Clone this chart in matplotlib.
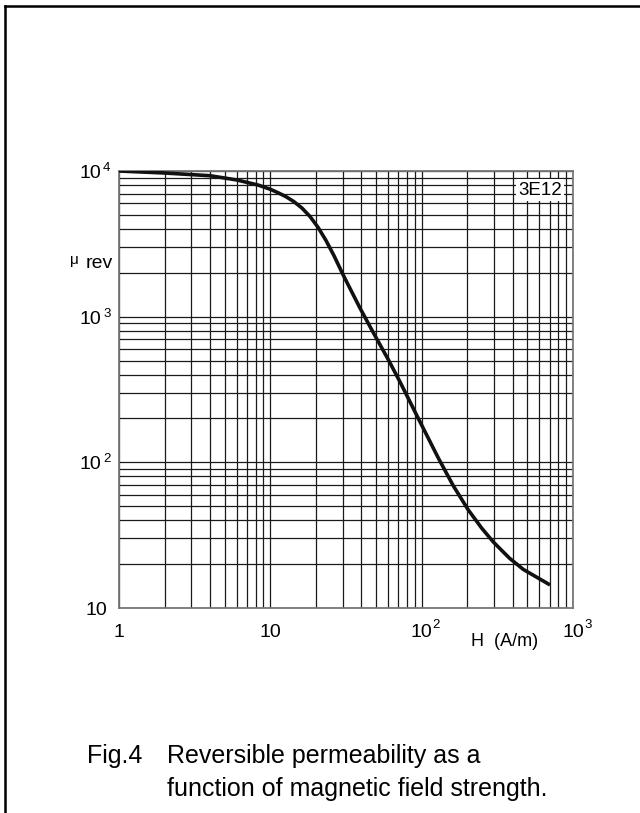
import matplotlib
matplotlib.use("Agg")
import matplotlib.pyplot as plt
from matplotlib.lines import Line2D

plt.rcParams['font.family'] = ['Liberation Sans', 'DejaVu Sans']

# curve (H in A/m, reversible permeability)
H = [1, 2, 4, 6, 8.3, 10, 11.24, 12.69, 14.33, 16.19, 18.29, 20.65, 23.33,
     26.35, 30.3, 39.1, 47.9, 60.2, 71.9, 95, 128.8, 161.8, 203.3, 250,
     297.4, 380, 469.5, 705]
mu_rev = [10000, 9690, 9280, 8680, 8010, 7490, 7096, 6662, 6156, 5563, 4871,
          4108, 3334, 2621, 1932, 1147, 777, 507, 357, 200.2, 107.1, 69.0,
          47.1, 35.2, 28.4, 22.0, 18.4, 14.4]

x_ticks = [1, 10, 100, 1000]
x_main = ['1', '10', '10', '10']
x_sup = ['', '', '2', '3']
y_ticks = [10, 100, 1000, 10000]
y_main = ['10', '10', '10', '10']
y_sup = ['', '2', '3', '4']

material = '3E12'
caption_tag = 'Fig.4'
caption = ['Reversible permeability as a', 'function of magnetic field strength.']

fig = plt.figure(figsize=(6.4, 8.13), dpi=100)
ax = fig.add_axes([119 / 640, 1 - 608 / 813, 454 / 640, 437 / 813])
ax.set_xscale('log')
ax.set_yscale('log')
ax.set_xlim(1, 1000)
ax.set_ylim(10, 10000)

ax.grid(True, which='both', color='#1a1a1a', lw=0.9)
ax.set_axisbelow(True)
ax.tick_params(which='both', length=0, labelbottom=False, labelleft=False)
for s in ax.spines.values():
    s.set_color('#777777')
    s.set_linewidth(1.3)

ax.plot(H, mu_rev, color='#111111', lw=2.6, solid_joinstyle='round',
        solid_capstyle='butt', zorder=3)

tick_fs = 14
sup_fs = 9.5
# x tick labels
for v, m, s in zip(x_ticks, x_main, x_sup):
    ax.annotate(m, (v, 0), xycoords=('data', 'axes fraction'),
                xytext=(0, -29), textcoords='offset pixels',
                ha='center', va='baseline', fontsize=tick_fs)
    if s:
        ax.annotate(s, (v, 0), xycoords=('data', 'axes fraction'),
                    xytext=(11, -20), textcoords='offset pixels',
                    ha='left', va='baseline', fontsize=sup_fs)
# y tick labels
for v, m, s in zip(y_ticks, y_main, y_sup):
    dx = -18 if s else -12
    ax.annotate(m, (0, v), xycoords=('axes fraction', 'data'),
                xytext=(dx, -7), textcoords='offset pixels',
                ha='right', va='baseline', fontsize=tick_fs)
    if s:
        ax.annotate(s, (0, v), xycoords=('axes fraction', 'data'),
                    xytext=(-16, 0), textcoords='offset pixels',
                    ha='left', va='baseline', fontsize=sup_fs)

ax.text(0.775, -0.087, 'H  (A/m)', transform=ax.transAxes,
        ha='left', va='baseline', fontsize=13)
ax.text(-0.108, 0.787, '\u03bc', transform=ax.transAxes,
        ha='left', va='baseline', fontsize=11)
ax.text(-0.0727, 0.778, 'rev', transform=ax.transAxes,
        ha='left', va='baseline', fontsize=14)
ax.text(0.927, 0.9565, material, transform=ax.transAxes, ha='center',
        va='center', fontsize=13.5, zorder=4,
        bbox=dict(facecolor='white', edgecolor='none', pad=1.5))

# caption
fig.text(87 / 640, 1 - 763 / 813, caption_tag, ha='left', va='baseline',
         fontsize=18)
fig.text(167 / 640, 1 - 763 / 813, caption[0], ha='left', va='baseline',
         fontsize=18)
fig.text(167 / 640, 1 - 796 / 813, caption[1], ha='left', va='baseline',
         fontsize=18)

# page frame (left and top edges)
fig.add_artist(Line2D([5 / 640, 5 / 640], [0, 1 - 6 / 813], color='black',
                      lw=1.8, transform=fig.transFigure))
fig.add_artist(Line2D([5 / 640, 1], [1 - 6 / 813, 1 - 6 / 813], color='black',
                      lw=1.8, transform=fig.transFigure))

fig.savefig('out.png', dpi=100)
